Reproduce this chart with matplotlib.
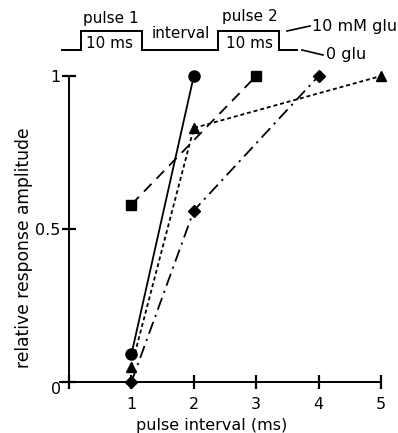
import matplotlib
matplotlib.use("Agg")
import matplotlib.pyplot as plt

plt.rcParams['font.family'] = ['DejaVu Sans']

# ---- data ----
circle_x = [1, 2]
circle_y = [0.09, 1.0]
square_x = [1, 3]
square_y = [0.58, 1.0]
triangle_x = [1, 2, 5]
triangle_y = [0.05, 0.83, 1.0]
diamond_x = [1, 2, 4]
diamond_y = [0.0, 0.56, 1.0]

xticks = [0, 1, 2, 3, 4, 5]
xticklabels = ['', '1', '2', '3', '4', '5']
yticks = [0, 0.5, 1]
yticklabels = ['0', '0.5', '1']

W, H = 398, 433
fig = plt.figure(figsize=(W / 100, H / 100), dpi=100)

# axes placement in pixels: x=0 -> 69px, x=5 -> 381px ; y=0 -> 382px, y=1 -> 76px
xmin, xmax = -0.2, 5.1
ymin, ymax = -0.07, 1.03
sx = (381 - 69) / 5.0
sy = (382 - 76) / 1.0
left_px = 69 + xmin * sx
right_px = 69 + xmax * sx
bottom_px = 382 - ymin * sy
top_px = 382 - ymax * sy
ax = fig.add_axes([left_px / W, 1 - bottom_px / H, (right_px - left_px) / W, (bottom_px - top_px) / H])
ax.set_xlim(xmin, xmax)
ax.set_ylim(ymin, ymax)

lw = 1.3
ms_kw = dict(color='black', markeredgecolor='black', lw=lw)
ax.plot(circle_x, circle_y, linestyle='-', marker='o', markersize=8, **ms_kw)
ax.plot(square_x, square_y, linestyle=(0, (6, 4)), marker='s', markersize=7.5, **ms_kw)
ax.plot(triangle_x, triangle_y, linestyle=(0, (2.2, 1.6)), marker='^', markersize=7.5, **ms_kw)
ax.plot(diamond_x, diamond_y, linestyle=(0, (7, 3, 1.2, 3)), marker='D', markersize=6.5, **ms_kw)

for s in ['top', 'right']:
    ax.spines[s].set_visible(False)
ax.spines['left'].set_position(('data', 0))
ax.spines['bottom'].set_position(('data', 0))
ax.spines['left'].set_bounds(0, 1)
ax.spines['bottom'].set_bounds(-0.15, 5)
for s in ['left', 'bottom']:
    ax.spines[s].set_linewidth(1.4)

ax.set_xticks(xticks)
ax.set_xticklabels(xticklabels)
ax.set_yticks(yticks)
ax.set_yticklabels(yticklabels)
ax.tick_params(axis='both', direction='inout', length=10, width=1.6, labelsize=11.5)
ax.tick_params(axis='x', pad=6)
ax.tick_params(axis='y', pad=1)
ax.get_yticklabels()[0].set_va('top')

ax.set_xlabel('pulse interval (ms)', fontsize=11.5)
ax.xaxis.set_label_coords(0.469, -0.043)
ax.set_ylabel('relative response amplitude', fontsize=12.3)
ax.yaxis.set_label_coords(-0.071, 0.462)
ax.patch.set_alpha(0)

# ---- header schematic (pixel coordinates overlay) ----
ov = fig.add_axes([0, 0, 1, 1])
ov.set_xlim(0, W)
ov.set_ylim(H, 0)
ov.axis('off')
ov.patch.set_alpha(0)

trace_x = [62, 81, 81, 142, 142, 218, 218, 279, 279, 297]
trace_y = [50, 50, 31, 31, 50, 50, 31, 31, 50, 50]
ov.plot(trace_x, trace_y, color='black', lw=1.4, solid_joinstyle='miter')
ov.plot([287, 310], [31, 26], color='black', lw=1.2)
ov.plot([302, 323], [50, 55], color='black', lw=1.2)

fs = 11
ov.text(111, 18, 'pulse 1', ha='center', va='center', fontsize=fs)
ov.text(110, 43, '10 ms', ha='center', va='center', fontsize=fs)
ov.text(181, 33, 'interval', ha='center', va='center', fontsize=fs)
ov.text(250, 17, 'pulse 2', ha='center', va='center', fontsize=fs)
ov.text(249, 43, '10 ms', ha='center', va='center', fontsize=fs)
ov.text(312, 27, '10 mM glu', ha='left', va='center', fontsize=fs + 0.5)
ov.text(326, 54, '0 glu', ha='left', va='center', fontsize=fs + 0.5)

fig.savefig('out.png', dpi=100)
